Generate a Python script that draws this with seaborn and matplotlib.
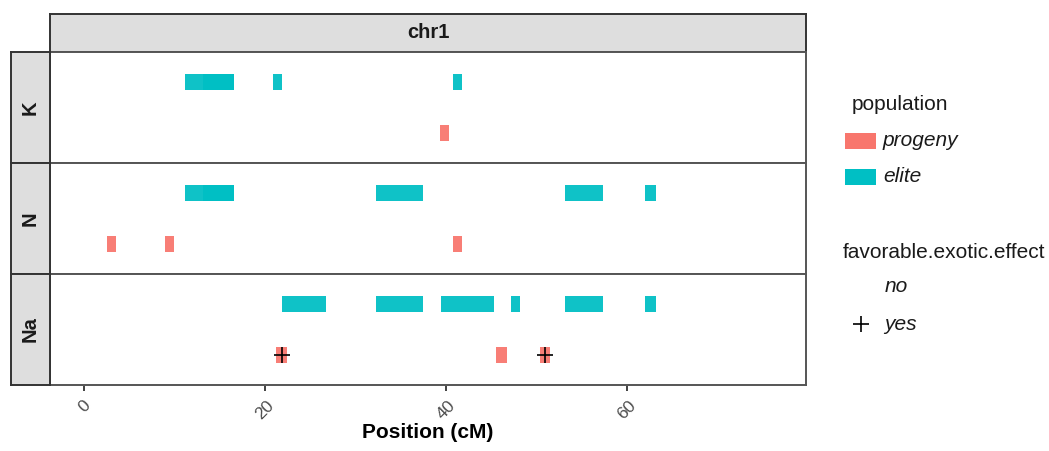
import numpy as np
import pandas as pd
import matplotlib
matplotlib.use("Agg")
import matplotlib.pyplot as plt
import matplotlib.patches as mpatches
import matplotlib.transforms as mtransforms
import seaborn as sns

sns.set_theme(style="ticks")
plt.rcParams['font.family'] = ['Liberation Sans', 'DejaVu Sans']

# segments: trait, population, start, end, favorable exotic effect
traits = ["K", "K", "K", "K", "K",
          "N", "N", "N", "N", "N", "N", "N", "N",
          "Na", "Na", "Na", "Na", "Na", "Na", "Na", "Na", "Na"]
populations = ["elite", "elite", "elite", "elite", "progeny",
               "elite", "elite", "elite", "elite", "elite", "progeny", "progeny", "progeny",
               "elite", "elite", "elite", "elite", "elite", "elite", "progeny", "progeny", "progeny"]
starts = [11.1, 13.1, 20.9, 40.8, 39.3,
          11.1, 13.1, 32.2, 53.2, 62.0, 2.5, 8.9, 40.8,
          21.9, 32.2, 39.4, 47.2, 53.2, 62.0, 21.2, 45.5, 50.4]
ends = [16.6, 16.6, 21.9, 41.8, 40.3,
        16.6, 16.6, 37.5, 57.4, 63.2, 3.5, 9.9, 41.8,
        26.7, 37.5, 45.3, 48.2, 57.4, 63.2, 22.4, 46.7, 51.5]
favorable = ["no"] * 19 + ["yes", "no", "yes"]

df = pd.DataFrame({"trait": traits, "population": populations,
                   "start": starts, "end": ends, "favorable": favorable})
df["mid"] = (df["start"] + df["end"]) / 2

pop_levels = ["progeny", "elite"]
pop_colors = {"progeny": "#F8766D", "elite": "#00BFC4"}
trait_levels = ["K", "N", "Na"]
xticks = [0, 20, 40, 60]

W, H = 1049, 451
fig = plt.figure(figsize=(W / 100, H / 100), dpi=100)

left, right = 50, 806
tops = [52, 163, 274]
ph = 111
edge = "#333333"
strip_fc = "#DEDEDE"

def fx(px):
    return px / W

def fy(py):
    return 1 - py / H

# column strip
sax = fig.add_axes([fx(left), fy(52), fx(right - left), (52 - 14) / H])
sax.set_facecolor(strip_fc)
sax.set_xticks([]); sax.set_yticks([])
for s in sax.spines.values():
    s.set_visible(True); s.set_color(edge); s.set_linewidth(1.4)
sax.text(0.5, 0.5, "chr1", ha="center", va="center", fontsize=14.5,
         fontweight="bold", color="#1A1A1A", transform=sax.transAxes)

for i, tr in enumerate(trait_levels):
    top = tops[i]
    ax = fig.add_axes([fx(left), fy(top + ph), fx(right - left), ph / H])
    rax = fig.add_axes([fx(11), fy(top + ph), fx(left - 11), ph / H])
    rax.set_facecolor(strip_fc)
    rax.set_xticks([]); rax.set_yticks([])
    for s in rax.spines.values():
        s.set_visible(True); s.set_color(edge); s.set_linewidth(1.4)
    rax.text(0.5, 0.5, tr, ha="center", va="center", rotation=90, fontsize=14.5,
             fontweight="bold", color="#1A1A1A", transform=rax.transAxes)

    sub = df[df["trait"] == tr]
    for _, r in sub.iterrows():
        y = pop_levels.index(r["population"]) + 1
        ax.barh(y, r["end"] - r["start"], left=r["start"], height=0.32,
                color=pop_colors[r["population"]], alpha=0.94, linewidth=0)
    fav = sub[sub["favorable"] == "yes"].copy()
    if len(fav):
        fav["ypos"] = [pop_levels.index(p) + 1 for p in fav["population"]]
        sns.scatterplot(data=fav, x="mid", y="ypos", marker="+", s=130,
                        color="black", linewidth=1.2, ax=ax, legend=False)
    ax.set_xlim(-3.8, 79.8)
    ax.set_ylim(0.4, 2.6)
    ax.set_yticks([])
    ax.set_xlabel(""); ax.set_ylabel("")
    ax.set_xticks(xticks)
    ax.set_xticklabels([str(t) for t in xticks])
    for s in ax.spines.values():
        s.set_visible(True); s.set_color("#555555"); s.set_linewidth(1.4)
    if i < 2:
        ax.tick_params(axis="x", bottom=False, top=False, labelbottom=False)
    else:
        ax.tick_params(axis="x", which="major", bottom=False, top=False,
                       labelsize=12.5, labelcolor="#4D4D4D", pad=3)
        # tick marks below the panel
        trans = mtransforms.blended_transform_factory(ax.transData, ax.transAxes)
        ax.vlines(xticks, -0.055, -0.006, transform=trans, colors="#333333",
                  linewidth=1.3, clip_on=False)
        for lab in ax.get_xticklabels():
            lab.set_rotation(45)
            lab.set_ha("center")
        ax.set_xlabel("Position (cM)", fontsize=15, fontweight="bold",
                      color="black", labelpad=1)

# legends drawn in figure pixel coordinates
fig.text(fx(852), fy(105), "population", fontsize=15, ha="left", va="center",
         color="#1A1A1A")
key_rows = [("progeny", 141), ("elite", 177)]
for p, yc in key_rows:
    fig.patches.append(mpatches.Rectangle((fx(845), fy(yc + 8)), fx(31), 16 / H,
                                          transform=fig.transFigure,
                                          color=pop_colors[p], linewidth=0))
    fig.text(fx(883), fy(yc), p, fontsize=15, fontstyle="italic", ha="left",
             va="center", color="#1A1A1A")

fig.text(fx(843), fy(252), "favorable.exotic.effect", fontsize=15, ha="left",
         va="center", color="#1A1A1A")
fig.text(fx(885), fy(287), "no", fontsize=15, fontstyle="italic", ha="left",
         va="center", color="#1A1A1A")
fig.text(fx(884), fy(325), "yes", fontsize=15, fontstyle="italic", ha="left",
         va="center", color="#1A1A1A")
fig.lines.append(plt.Line2D([fx(861)], [fy(324)], marker="+", markersize=11,
                            color="black", markeredgewidth=1.2,
                            transform=fig.transFigure))

fig.savefig("out.png", dpi=100)
